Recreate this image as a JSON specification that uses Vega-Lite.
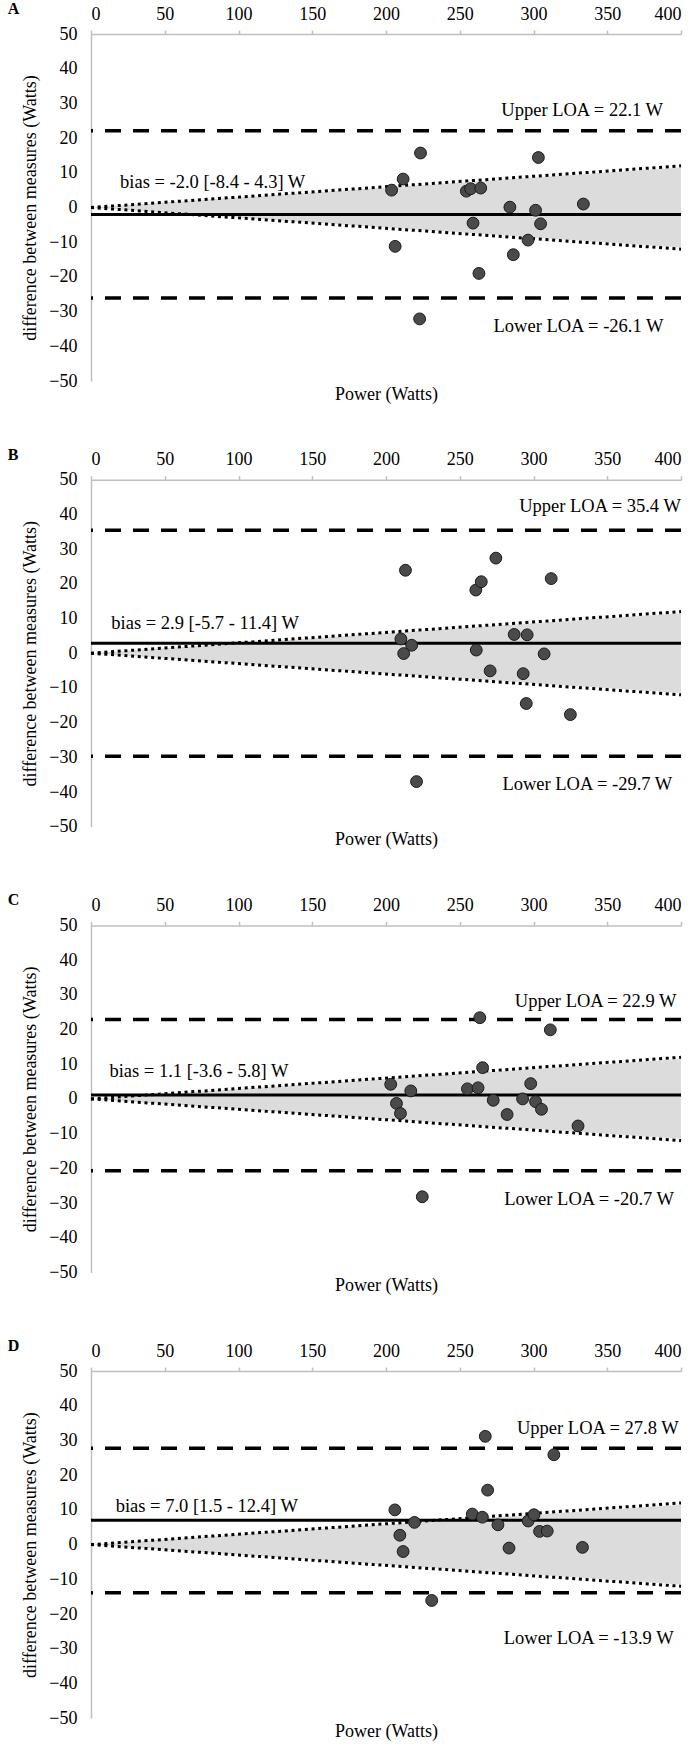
{
  "$schema": "https://vega.github.io/schema/vega-lite/v6.json",
  "background": "white",
  "padding": {"left": 7, "top": 1, "right": 5, "bottom": 0},
  "spacing": 43.7,
  "config": {
    "view": {"stroke": null},
    "font": "Liberation Serif",
    "axis": {"grid": false, "domainColor": "#bfbfbf", "domainWidth": 1.5, "tickColor": "#bfbfbf", "tickWidth": 1.5, "labelFont": "Liberation Serif", "labelFontSize": 18, "labelColor": "#000", "labelOverlap": false, "titleFont": "Liberation Serif", "titleFontSize": 18, "titleFontWeight": "normal", "titleColor": "#000"},
    "title": {"font": "Liberation Serif", "fontSize": 16, "fontWeight": "bold", "anchor": "start", "frame": "bounds", "color": "#000"}
  },
  "datasets": {
    "cone": [{"power": 0, "lo": 0, "hi": 0}, {"power": 400, "lo": -11.5, "hi": 11.5}],
    "coneLines": [
      {"edge": "upper", "power": 0, "diff": 0}, {"edge": "upper", "power": 400, "diff": 12},
      {"edge": "lower", "power": 0, "diff": 0}, {"edge": "lower", "power": 400, "diff": -12}
    ],
    "refs": [
      {"panel": "A", "kind": "upper", "value": 22.1}, {"panel": "A", "kind": "lower", "value": -26.1}, {"panel": "A", "kind": "bias", "value": -2.0},
      {"panel": "B", "kind": "upper", "value": 35.4}, {"panel": "B", "kind": "lower", "value": -29.7}, {"panel": "B", "kind": "bias", "value": 2.9},
      {"panel": "C", "kind": "upper", "value": 22.9}, {"panel": "C", "kind": "lower", "value": -20.7}, {"panel": "C", "kind": "bias", "value": 1.1},
      {"panel": "D", "kind": "upper", "value": 27.8}, {"panel": "D", "kind": "lower", "value": -13.9}, {"panel": "D", "kind": "bias", "value": 7.0}
    ],
    "labels": [
      {"panel": "A", "label": "Upper LOA = 22.1 W", "power": 333.0, "diff": 28.0},
      {"panel": "A", "label": "Lower LOA = -26.1 W", "power": 330.5, "diff": -34.1},
      {"panel": "A", "label": "bias = -2.0 [-8.4 - 4.3] W", "power": 82.5, "diff": 7.4},
      {"panel": "B", "label": "Upper LOA = 35.4 W", "power": 345.1, "diff": 42.5},
      {"panel": "B", "label": "Lower LOA = -29.7 W", "power": 336.5, "diff": -37.8},
      {"panel": "B", "label": "bias = 2.9 [-5.7 - 11.4] W", "power": 77.4, "diff": 8.6},
      {"panel": "C", "label": "Upper LOA = 22.9 W", "power": 342.1, "diff": 28.3},
      {"panel": "C", "label": "Lower LOA = -20.7 W", "power": 337.7, "diff": -28.8},
      {"panel": "C", "label": "bias = 1.1 [-3.6 - 5.8] W", "power": 73.2, "diff": 8.1},
      {"panel": "D", "label": "Upper LOA = 27.8 W", "power": 343.6, "diff": 33.7},
      {"panel": "D", "label": "Lower LOA = -13.9 W", "power": 337.4, "diff": -26.9},
      {"panel": "D", "label": "bias = 7.0 [1.5 - 12.4] W", "power": 78.5, "diff": 11.1}
    ],
    "points": [
      {"panel": "A", "power": 203.8, "diff": 5.0}, {"panel": "A", "power": 211.6, "diff": 8.2}, {"panel": "A", "power": 206.2, "diff": -11.2},
      {"panel": "A", "power": 223.4, "diff": 15.7}, {"panel": "A", "power": 222.8, "diff": -32.1}, {"panel": "A", "power": 254.5, "diff": 4.7},
      {"panel": "A", "power": 257.4, "diff": 5.4}, {"panel": "A", "power": 264.2, "diff": 5.6}, {"panel": "A", "power": 259.0, "diff": -4.5},
      {"panel": "A", "power": 263.0, "diff": -19.0}, {"panel": "A", "power": 284.0, "diff": 0.1}, {"panel": "A", "power": 286.3, "diff": -13.6},
      {"panel": "A", "power": 296.3, "diff": -9.4}, {"panel": "A", "power": 301.4, "diff": -0.8}, {"panel": "A", "power": 304.8, "diff": -4.7},
      {"panel": "A", "power": 303.3, "diff": 14.4}, {"panel": "A", "power": 333.8, "diff": 1.0},
      {"panel": "B", "power": 213.2, "diff": 23.9}, {"panel": "B", "power": 210.1, "diff": 4.1}, {"panel": "B", "power": 217.4, "diff": 2.3},
      {"panel": "B", "power": 212.0, "diff": -0.1}, {"panel": "B", "power": 220.7, "diff": -37.0}, {"panel": "B", "power": 260.9, "diff": 18.2},
      {"panel": "B", "power": 264.6, "diff": 20.6}, {"panel": "B", "power": 274.5, "diff": 27.4}, {"panel": "B", "power": 261.2, "diff": 0.9},
      {"panel": "B", "power": 270.6, "diff": -5.1}, {"panel": "B", "power": 286.9, "diff": 5.4}, {"panel": "B", "power": 295.7, "diff": 5.3},
      {"panel": "B", "power": 293.0, "diff": -5.9}, {"panel": "B", "power": 295.1, "diff": -14.5}, {"panel": "B", "power": 307.2, "diff": -0.2},
      {"panel": "B", "power": 312.0, "diff": 21.5}, {"panel": "B", "power": 325.0, "diff": -17.7},
      {"panel": "C", "power": 263.6, "diff": 23.4}, {"panel": "C", "power": 311.4, "diff": 19.9}, {"panel": "C", "power": 265.5, "diff": 9.0},
      {"panel": "C", "power": 203.2, "diff": 4.2}, {"panel": "C", "power": 216.8, "diff": 2.3}, {"panel": "C", "power": 207.1, "diff": -1.3},
      {"panel": "C", "power": 209.8, "diff": -4.2}, {"panel": "C", "power": 255.2, "diff": 2.9}, {"panel": "C", "power": 262.4, "diff": 3.2},
      {"panel": "C", "power": 272.7, "diff": -0.4}, {"panel": "C", "power": 282.1, "diff": -4.5}, {"panel": "C", "power": 292.6, "diff": 0.0},
      {"panel": "C", "power": 298.1, "diff": 4.4}, {"panel": "C", "power": 301.4, "diff": -0.8}, {"panel": "C", "power": 305.4, "diff": -3.0},
      {"panel": "C", "power": 330.2, "diff": -7.8}, {"panel": "C", "power": 224.6, "diff": -28.2},
      {"panel": "D", "power": 267.3, "diff": 31.2}, {"panel": "D", "power": 313.8, "diff": 25.9}, {"panel": "D", "power": 268.9, "diff": 15.7},
      {"panel": "D", "power": 206.0, "diff": 10.0}, {"panel": "D", "power": 219.3, "diff": 6.4}, {"panel": "D", "power": 209.4, "diff": 2.7},
      {"panel": "D", "power": 211.6, "diff": -2.0}, {"panel": "D", "power": 231.0, "diff": -16.1}, {"panel": "D", "power": 258.5, "diff": 8.8},
      {"panel": "D", "power": 265.3, "diff": 7.9}, {"panel": "D", "power": 275.9, "diff": 5.7}, {"panel": "D", "power": 283.4, "diff": -1.0},
      {"panel": "D", "power": 296.4, "diff": 6.8}, {"panel": "D", "power": 300.3, "diff": 8.6}, {"panel": "D", "power": 304.1, "diff": 3.8},
      {"panel": "D", "power": 309.3, "diff": 3.9}, {"panel": "D", "power": 333.2, "diff": -0.8}
    ]
  },
  "vconcat": [
    {
      "title": {"text": "A", "dx": -14, "dy": 16},
      "width": 590, "height": 347,
      "resolve": {"axis": {"x": "independent"}},
      "layer": [
        {"data": {"name": "cone"}, "mark": {"type": "area", "color": "#dcdcdc"},
         "encoding": {
           "x": {"field": "power", "type": "quantitative", "scale": {"domain": [0, 400], "nice": false}, "axis": {"orient": "top", "values": [0, 50, 100, 150, 200, 250, 300, 350, 400], "tickCount": 12, "title": null, "tickSize": 4, "labelPadding": 7, "labelOverlap": false}},
           "y": {"field": "hi", "type": "quantitative", "scale": {"domain": [-50, 50], "nice": false}, "axis": {"values": [-50, -40, -30, -20, -10, 0, 10, 20, 30, 40, 50], "tickCount": 12, "ticks": false, "labelPadding": 14, "labelOverlap": false, "title": "difference between measures (Watts)", "titlePadding": 9}},
           "y2": {"field": "lo"}}},
        {"data": {"name": "coneLines"}, "mark": {"type": "line", "color": "#000", "strokeWidth": 3, "strokeDash": [3, 3.7]},
         "encoding": {
           "x": {"field": "power", "type": "quantitative", "axis": {"orient": "bottom", "domain": false, "ticks": false, "labels": false, "title": "Power (Watts)", "titlePadding": 4}},
           "y": {"field": "diff", "type": "quantitative"},
           "detail": {"field": "edge"}}},
        {"data": {"name": "refs"}, "transform": [{"filter": "datum.panel === 'A' && datum.kind !== 'bias'"}],
         "mark": {"type": "rule", "color": "#000", "strokeWidth": 3.5, "strokeDash": [16, 12]},
         "encoding": {"y": {"field": "value", "type": "quantitative"}}},
        {"data": {"name": "refs"}, "transform": [{"filter": "datum.panel === 'A' && datum.kind === 'bias'"}],
         "mark": {"type": "rule", "color": "#000", "strokeWidth": 3},
         "encoding": {"y": {"field": "value", "type": "quantitative"}}},
        {"data": {"name": "points"}, "transform": [{"filter": "datum.panel === 'A'"}],
         "mark": {"type": "circle", "size": 140, "color": "#4a4a4a", "stroke": "#1a1a1a", "strokeWidth": 1, "opacity": 1},
         "encoding": {"x": {"field": "power", "type": "quantitative", "axis": null}, "y": {"field": "diff", "type": "quantitative"}}},
        {"data": {"name": "labels"}, "transform": [{"filter": "datum.panel === 'A'"}],
         "mark": {"type": "text", "fontSize": 18.5, "font": "Liberation Serif", "color": "#000"},
         "encoding": {"x": {"field": "power", "type": "quantitative", "axis": null}, "y": {"field": "diff", "type": "quantitative"}, "text": {"field": "label"}}}
      ]
    },
    {
      "title": {"text": "B", "dx": -14, "dy": 16},
      "width": 590, "height": 347,
      "resolve": {"axis": {"x": "independent"}},
      "layer": [
        {"data": {"name": "cone"}, "mark": {"type": "area", "color": "#dcdcdc"},
         "encoding": {
           "x": {"field": "power", "type": "quantitative", "scale": {"domain": [0, 400], "nice": false}, "axis": {"orient": "top", "values": [0, 50, 100, 150, 200, 250, 300, 350, 400], "tickCount": 12, "title": null, "tickSize": 4, "labelPadding": 7, "labelOverlap": false}},
           "y": {"field": "hi", "type": "quantitative", "scale": {"domain": [-50, 50], "nice": false}, "axis": {"values": [-50, -40, -30, -20, -10, 0, 10, 20, 30, 40, 50], "tickCount": 12, "ticks": false, "labelPadding": 14, "labelOverlap": false, "title": "difference between measures (Watts)", "titlePadding": 9}},
           "y2": {"field": "lo"}}},
        {"data": {"name": "coneLines"}, "mark": {"type": "line", "color": "#000", "strokeWidth": 3, "strokeDash": [3, 3.7]},
         "encoding": {
           "x": {"field": "power", "type": "quantitative", "axis": {"orient": "bottom", "domain": false, "ticks": false, "labels": false, "title": "Power (Watts)", "titlePadding": 4}},
           "y": {"field": "diff", "type": "quantitative"},
           "detail": {"field": "edge"}}},
        {"data": {"name": "refs"}, "transform": [{"filter": "datum.panel === 'B' && datum.kind !== 'bias'"}],
         "mark": {"type": "rule", "color": "#000", "strokeWidth": 3.5, "strokeDash": [16, 12]},
         "encoding": {"y": {"field": "value", "type": "quantitative"}}},
        {"data": {"name": "refs"}, "transform": [{"filter": "datum.panel === 'B' && datum.kind === 'bias'"}],
         "mark": {"type": "rule", "color": "#000", "strokeWidth": 3},
         "encoding": {"y": {"field": "value", "type": "quantitative"}}},
        {"data": {"name": "points"}, "transform": [{"filter": "datum.panel === 'B'"}],
         "mark": {"type": "circle", "size": 140, "color": "#4a4a4a", "stroke": "#1a1a1a", "strokeWidth": 1, "opacity": 1},
         "encoding": {"x": {"field": "power", "type": "quantitative", "axis": null}, "y": {"field": "diff", "type": "quantitative"}}},
        {"data": {"name": "labels"}, "transform": [{"filter": "datum.panel === 'B'"}],
         "mark": {"type": "text", "fontSize": 18.5, "font": "Liberation Serif", "color": "#000"},
         "encoding": {"x": {"field": "power", "type": "quantitative", "axis": null}, "y": {"field": "diff", "type": "quantitative"}, "text": {"field": "label"}}}
      ]
    },
    {
      "title": {"text": "C", "dx": -14, "dy": 16},
      "width": 590, "height": 347,
      "resolve": {"axis": {"x": "independent"}},
      "layer": [
        {"data": {"name": "cone"}, "mark": {"type": "area", "color": "#dcdcdc"},
         "encoding": {
           "x": {"field": "power", "type": "quantitative", "scale": {"domain": [0, 400], "nice": false}, "axis": {"orient": "top", "values": [0, 50, 100, 150, 200, 250, 300, 350, 400], "tickCount": 12, "title": null, "tickSize": 4, "labelPadding": 7, "labelOverlap": false}},
           "y": {"field": "hi", "type": "quantitative", "scale": {"domain": [-50, 50], "nice": false}, "axis": {"values": [-50, -40, -30, -20, -10, 0, 10, 20, 30, 40, 50], "tickCount": 12, "ticks": false, "labelPadding": 14, "labelOverlap": false, "title": "difference between measures (Watts)", "titlePadding": 9}},
           "y2": {"field": "lo"}}},
        {"data": {"name": "coneLines"}, "mark": {"type": "line", "color": "#000", "strokeWidth": 3, "strokeDash": [3, 3.7]},
         "encoding": {
           "x": {"field": "power", "type": "quantitative", "axis": {"orient": "bottom", "domain": false, "ticks": false, "labels": false, "title": "Power (Watts)", "titlePadding": 4}},
           "y": {"field": "diff", "type": "quantitative"},
           "detail": {"field": "edge"}}},
        {"data": {"name": "refs"}, "transform": [{"filter": "datum.panel === 'C' && datum.kind !== 'bias'"}],
         "mark": {"type": "rule", "color": "#000", "strokeWidth": 3.5, "strokeDash": [16, 12]},
         "encoding": {"y": {"field": "value", "type": "quantitative"}}},
        {"data": {"name": "refs"}, "transform": [{"filter": "datum.panel === 'C' && datum.kind === 'bias'"}],
         "mark": {"type": "rule", "color": "#000", "strokeWidth": 3},
         "encoding": {"y": {"field": "value", "type": "quantitative"}}},
        {"data": {"name": "points"}, "transform": [{"filter": "datum.panel === 'C'"}],
         "mark": {"type": "circle", "size": 140, "color": "#4a4a4a", "stroke": "#1a1a1a", "strokeWidth": 1, "opacity": 1},
         "encoding": {"x": {"field": "power", "type": "quantitative", "axis": null}, "y": {"field": "diff", "type": "quantitative"}}},
        {"data": {"name": "labels"}, "transform": [{"filter": "datum.panel === 'C'"}],
         "mark": {"type": "text", "fontSize": 18.5, "font": "Liberation Serif", "color": "#000"},
         "encoding": {"x": {"field": "power", "type": "quantitative", "axis": null}, "y": {"field": "diff", "type": "quantitative"}, "text": {"field": "label"}}}
      ]
    },
    {
      "title": {"text": "D", "dx": -14, "dy": 16},
      "width": 590, "height": 347,
      "resolve": {"axis": {"x": "independent"}},
      "layer": [
        {"data": {"name": "cone"}, "mark": {"type": "area", "color": "#dcdcdc"},
         "encoding": {
           "x": {"field": "power", "type": "quantitative", "scale": {"domain": [0, 400], "nice": false}, "axis": {"orient": "top", "values": [0, 50, 100, 150, 200, 250, 300, 350, 400], "tickCount": 12, "title": null, "tickSize": 4, "labelPadding": 7, "labelOverlap": false}},
           "y": {"field": "hi", "type": "quantitative", "scale": {"domain": [-50, 50], "nice": false}, "axis": {"values": [-50, -40, -30, -20, -10, 0, 10, 20, 30, 40, 50], "tickCount": 12, "ticks": false, "labelPadding": 14, "labelOverlap": false, "title": "difference between measures (Watts)", "titlePadding": 9}},
           "y2": {"field": "lo"}}},
        {"data": {"name": "coneLines"}, "mark": {"type": "line", "color": "#000", "strokeWidth": 3, "strokeDash": [3, 3.7]},
         "encoding": {
           "x": {"field": "power", "type": "quantitative", "axis": {"orient": "bottom", "domain": false, "ticks": false, "labels": false, "title": "Power (Watts)", "titlePadding": 4}},
           "y": {"field": "diff", "type": "quantitative"},
           "detail": {"field": "edge"}}},
        {"data": {"name": "refs"}, "transform": [{"filter": "datum.panel === 'D' && datum.kind !== 'bias'"}],
         "mark": {"type": "rule", "color": "#000", "strokeWidth": 3.5, "strokeDash": [16, 12]},
         "encoding": {"y": {"field": "value", "type": "quantitative"}}},
        {"data": {"name": "refs"}, "transform": [{"filter": "datum.panel === 'D' && datum.kind === 'bias'"}],
         "mark": {"type": "rule", "color": "#000", "strokeWidth": 3},
         "encoding": {"y": {"field": "value", "type": "quantitative"}}},
        {"data": {"name": "points"}, "transform": [{"filter": "datum.panel === 'D'"}],
         "mark": {"type": "circle", "size": 140, "color": "#4a4a4a", "stroke": "#1a1a1a", "strokeWidth": 1, "opacity": 1},
         "encoding": {"x": {"field": "power", "type": "quantitative", "axis": null}, "y": {"field": "diff", "type": "quantitative"}}},
        {"data": {"name": "labels"}, "transform": [{"filter": "datum.panel === 'D'"}],
         "mark": {"type": "text", "fontSize": 18.5, "font": "Liberation Serif", "color": "#000"},
         "encoding": {"x": {"field": "power", "type": "quantitative", "axis": null}, "y": {"field": "diff", "type": "quantitative"}, "text": {"field": "label"}}}
      ]
    }
  ]
}
